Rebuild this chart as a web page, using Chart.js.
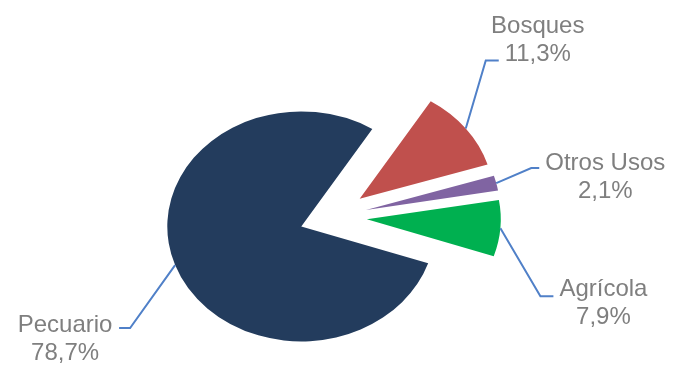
<!DOCTYPE html>
<html>
<head>
<meta charset="utf-8">
<script src="https://cdn.jsdelivr.net/npm/chart.js@4.4.1/dist/chart.umd.min.js"></script>
<style>
    html, body { margin: 0; padding: 0; background: #fff; }
    #wrap { width: 673px; height: 369px; position: relative; }
</style>
</head>
<body>
<div id="wrap"><canvas id="grafico"></canvas></div>
<script>
var categorias = ['Pecuario', 'Bosques', 'Otros Usos', 'Agrícola'];
var porcentajes = [78.7, 11.3, 2.1, 7.9];
var colores = ['#233c5d', '#c0504d', '#8064a2', '#00b050'];

// separacion de cada porcion y estiramiento horizontal de la torta
var separacion = [28, 30, 30, 30];
var estiramiento = 1.165;

// lineas guia: codo relativo al borde, tramo horizontal, posicion del texto
var guias = [
    { codo: [-45, 63], cola: -11, texto: [-54, 4] },
    { codo: [20, -68], cola: 13, texto: [39, -27] },
    { codo: [35, -15], cola: 8, texto: [66, 2] },
    { codo: [40, 68], cola: 13, texto: [50, 0] }
];

function centro(chart) {
    var a = chart.chartArea;
    return { x: (a.left + a.right) / 2, y: (a.top + a.bottom) / 2 };
}

function formatoPorcentaje(valor) {
    return valor.toFixed(1).replace('.', ',') + '%';
}

function dibujarEtiquetas(chart) {
    var ctx = chart.ctx;
    var c = centro(chart);
    var arcos = chart.getDatasetMeta(0).data;
    ctx.save();
    arcos.forEach(function (arco, i) {
        var medio = (arco.startAngle + arco.endAngle) / 2;
        var x0 = c.x + (arco.x + Math.cos(medio) * arco.outerRadius - c.x) * estiramiento;
        var y0 = arco.y + Math.sin(medio) * arco.outerRadius;
        var g = guias[i];
        var x1 = x0 + g.codo[0];
        var y1 = y0 + g.codo[1];
        var x2 = x1 + g.cola;

        ctx.beginPath();
        ctx.moveTo(x0, y0);
        ctx.lineTo(x1, y1);
        ctx.lineTo(x2, y1);
        ctx.strokeStyle = '#5080c8';
        ctx.lineWidth = 2;
        ctx.stroke();

        ctx.fillStyle = '#7f7f7f';
        ctx.font = '24px "Liberation Sans", Arial, sans-serif';
        ctx.textAlign = 'center';
        ctx.textBaseline = 'alphabetic';
        var tx = x2 + g.texto[0];
        var ty = y1 + g.texto[1];
        ctx.fillText(categorias[i], tx, ty);
        ctx.fillText(formatoPorcentaje(porcentajes[i]), tx, ty + 28);
    });
    ctx.restore();
}

var pluginTorta = {
    id: 'torta',
    beforeDatasetsDraw: function (chart) {
        var c = centro(chart);
        var arcos = chart.getDatasetMeta(0).data;
        arcos.forEach(function (arco, i) {
            var medio = (arco.startAngle + arco.endAngle) / 2;
            arco.x = c.x + Math.cos(medio) * separacion[i];
            arco.y = c.y + Math.sin(medio) * separacion[i];
        });
        var ctx = chart.ctx;
        ctx.save();
        ctx.translate(c.x, 0);
        ctx.scale(estiramiento, 1);
        ctx.translate(-c.x, 0);
    },
    afterDatasetsDraw: function (chart) {
        chart.ctx.restore();
        dibujarEtiquetas(chart);
    }
};

new Chart(document.getElementById('grafico'), {
    type: 'pie',
    data: {
        labels: categorias,
        datasets: [{
            data: porcentajes,
            backgroundColor: colores,
            borderWidth: 0
        }]
    },
    options: {
        responsive: true,
        maintainAspectRatio: false,
        animation: false,
        events: [],
        rotation: 108.7,
        radius: 115,
        layout: { padding: { left: 0, right: 9, top: 65, bottom: 0 } },
        plugins: {
            legend: { display: false },
            tooltip: { enabled: false }
        }
    },
    plugins: [pluginTorta]
});
</script>
</body>
</html>
